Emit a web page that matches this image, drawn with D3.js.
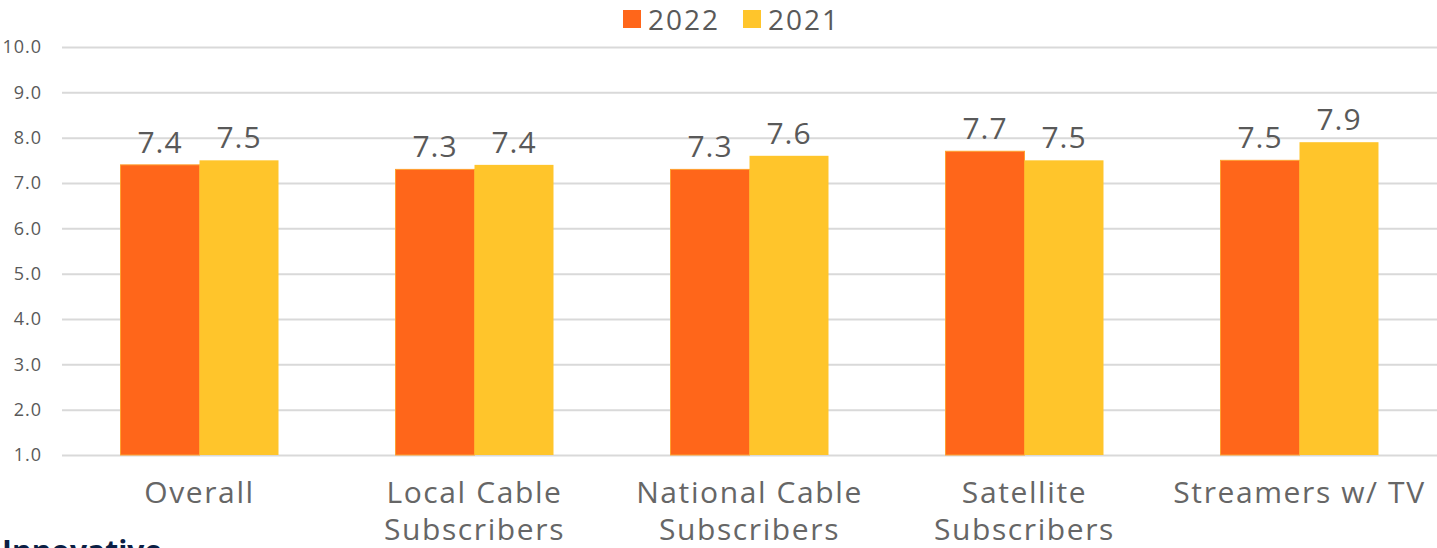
<!DOCTYPE html>
<html>
<head>
<meta charset="utf-8">
<script src="https://cdn.jsdelivr.net/npm/d3@7"></script>
<style>
  html, body { margin: 0; padding: 0; background: #fff; overflow: hidden; }
  svg { display: block; }
  text { font-family: "Open Sans", "Noto Sans", sans-serif; }
</style>
</head>
<body>
<svg id="chart" width="1437" height="548"></svg>
<script>
// Satisfaction scores by subscriber group
const categories = [
  ["Overall"],
  ["Local Cable", "Subscribers"],
  ["National Cable", "Subscribers"],
  ["Satellite", "Subscribers"],
  ["Streamers w/ TV"]
];
const seriesNames = ["2022", "2021"];
const values2022 = [7.4, 7.3, 7.3, 7.7, 7.5];
const values2021 = [7.5, 7.4, 7.6, 7.5, 7.9];
const yTicks = [1, 2, 3, 4, 5, 6, 7, 8, 9, 10];
const colors = ["#FF661A", "#FFC52B"];

const svg = d3.select("#chart");
const plotLeft = 62, plotRight = 1437, plotTop = 47, plotBottom = 455;
const catKeys = categories.map(c => c.join(" "));
const series = [values2022, values2021];

const x0 = d3.scaleBand().domain(catKeys).range([plotLeft, plotRight])
  .paddingInner(0.4255).paddingOuter(0.2128);
const x1 = d3.scaleBand().domain(seriesNames).range([0, x0.bandwidth()]);
const y = d3.scaleLinear().domain([1, 10]).range([plotBottom, plotTop]);

// Gridlines and y-axis labels
const yAxis = d3.axisLeft(y).tickValues(yTicks).tickSize(0).tickPadding(0)
  .tickFormat(d3.format(".1f"));
const gy = svg.append("g").attr("transform", `translate(${plotLeft},0)`).call(yAxis);
gy.select(".domain").remove();
gy.selectAll(".tick line").attr("x2", plotRight - plotLeft).attr("stroke", "#d9d9d9").attr("stroke-width", 2);
gy.selectAll(".tick text").attr("x", -20).attr("fill", "#595959")
  .style("font-size", "18px").style("letter-spacing", "1px")
  .style("font-family", "'Open Sans', sans-serif");

// Bars
seriesNames.forEach((name, si) => {
  svg.append("g").selectAll("rect").data(series[si]).join("rect")
    .attr("x", (d, i) => x0(catKeys[i]) + x1(name))
    .attr("y", d => y(d))
    .attr("width", x1.bandwidth())
    .attr("height", d => y(1) - y(d))
    .attr("fill", colors[si])
    .attr("stroke", si === 0 ? "#FFA030" : "none")
    .attr("stroke-width", 1);

  svg.append("g").selectAll("text").data(series[si]).join("text")
    .attr("x", (d, i) => x0(catKeys[i]) + x1(name) + x1.bandwidth() / 2)
    .attr("y", d => y(d) - 12)
    .attr("text-anchor", "middle")
    .attr("fill", "#595959")
    .style("font-size", "30px")
    .style("letter-spacing", "1px")
    .text(d => d3.format(".1f")(d));
});

// Category labels
const cat = svg.append("g").selectAll("text").data(categories).join("text")
  .attr("x", (d, i) => x0(catKeys[i]) + x0.bandwidth() / 2)
  .attr("y", 503)
  .attr("text-anchor", "middle")
  .attr("fill", "#666666")
  .style("font-size", "30px")
  .style("letter-spacing", "1.6px");
cat.selectAll("tspan").data(d => d).join("tspan")
  .attr("x", function () { return d3.select(this.parentNode).attr("x"); })
  .attr("dy", (d, i) => i === 0 ? 0 : 37)
  .text(d => d);

// Legend
const legend = svg.append("g");
const legendX = [623, 743];
seriesNames.forEach((name, i) => {
  legend.append("rect").attr("x", legendX[i]).attr("y", 10)
    .attr("width", 18).attr("height", 18).attr("fill", colors[i]);
  legend.append("text").attr("x", legendX[i] + 25).attr("y", 30)
    .attr("fill", "#595959").style("font-size", "28px").style("letter-spacing", "2px")
    .text(name);
});

// Section heading below the chart
svg.append("text").attr("x", 2).attr("y", 562)
  .attr("fill", "#0B1E44").style("font-size", "30px").style("font-weight", "700")
  .text("Innovative");
</script>
</body>
</html>
